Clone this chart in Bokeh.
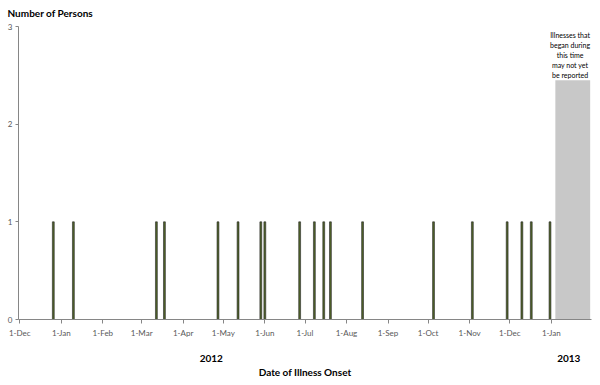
from datetime import datetime
from bokeh.plotting import figure
from bokeh.models import (ColumnDataSource, Range1d, FixedTicker, DatetimeTickFormatter, Label,
                          DatetimeAxis)
from bokeh.embed import file_html
from bokeh.resources import INLINE

# ---- data ----
onset_dates = ["2011-12-26", "2012-01-10", "2012-03-12", "2012-03-18", "2012-04-27",
               "2012-05-12", "2012-05-29", "2012-06-01", "2012-06-27", "2012-07-08",
               "2012-07-15", "2012-07-20", "2012-08-13", "2012-10-05", "2012-11-03",
               "2012-11-29", "2012-12-10", "2012-12-17", "2012-12-31"]
persons = [1, 1, 1, 1, 1, 1, 1, 1, 1, 1, 1, 1, 1, 1, 1, 1, 1, 1, 1]
month_ticks = ["2011-12-01", "2012-01-01", "2012-02-01", "2012-03-01", "2012-04-01",
               "2012-05-01", "2012-06-01", "2012-07-01", "2012-08-01", "2012-09-01",
               "2012-10-01", "2012-11-01", "2012-12-01", "2013-01-01"]
y_ticks = [0, 1, 2, 3]
year_positions = ["2012-04-22", "2013-01-14"]   # labelled "2012", "2013"
pending_start = "2013-01-04"
pending_end = "2013-01-30"
pending_height = 2.45
pending_note = "Illnesses that\nbegan during\nthis time\nmay not yet\nbe reported"

DAY = 86400000.0

def ms(s):
    return (datetime.strptime(s, "%Y-%m-%d") - datetime(1970, 1, 1)).total_seconds() * 1000.0

src = ColumnDataSource(dict(x=[ms(d) for d in onset_dates], top=persons))
pend = ColumnDataSource(dict(left=[ms(pending_start)], right=[ms(pending_end)],
                             top=[pending_height], bottom=[0]))

FONT = "Lato"

p = figure(width=600, height=385, x_axis_type="datetime", output_backend="svg",
           toolbar_location=None, min_border_left=18, min_border_right=9,
           min_border_top=26, min_border_bottom=66,
           x_range=Range1d(ms("2011-11-30"), ms("2013-01-31")), y_range=Range1d(0, 3))
p.outline_line_color = None
p.background_fill_color = "white"
p.border_fill_color = "white"
p.xgrid.visible = False
p.ygrid.visible = False

p.title.text = "Number of Persons"
p.title.align = "left"
p.title.offset = -11
p.title.vertical_align = "top"
p.title.text_font = FONT
p.title.text_font_style = "bold"
p.title.text_font_size = "10px"
p.title.text_color = "#000000"
p.title.standoff = 12

p.quad(left="left", right="right", top="top", bottom="bottom", source=pend,
       fill_color="#C8C8C8", line_color=None)
p.vbar(x="x", top="top", width=1.4 * DAY, source=src, fill_color="#4F6228",
       line_color="#262626", line_width=0.6)

# axes
p.xaxis.ticker = FixedTicker(ticks=[ms(t) for t in month_ticks])
fmt = "1-%b"
p.xaxis.formatter = DatetimeTickFormatter(milliseconds=fmt, seconds=fmt, minsec=fmt, minutes=fmt,
                                          hourmin=fmt, hours=fmt, days=fmt, months=fmt, years=fmt)
p.xaxis.minor_tick_line_color = None
p.xaxis.major_tick_in = 0
p.xaxis.major_tick_out = 4
p.xaxis.axis_line_color = "#868686"
p.xaxis.major_tick_line_color = "#868686"
p.xaxis.major_label_text_font = FONT
p.xaxis.major_label_text_font_size = "8px"
p.xaxis.major_label_text_color = "#595959"
p.xaxis.major_label_standoff = 4

yfmt = "%Y"
year_axis = DatetimeAxis(ticker=FixedTicker(ticks=[ms(t) for t in year_positions]),
                         formatter=DatetimeTickFormatter(milliseconds=yfmt, seconds=yfmt, minsec=yfmt,
                                                         minutes=yfmt, hourmin=yfmt, hours=yfmt,
                                                         days=yfmt, months=yfmt, years=yfmt),
                         axis_line_color=None, major_tick_line_color=None,
                         minor_tick_line_color=None, major_tick_out=0, major_tick_in=0,
                         major_label_standoff=14,
                         major_label_text_font=FONT, major_label_text_font_style="bold",
                         major_label_text_font_size="10px", major_label_text_color="#000000",
                         axis_label="Date of Illness Onset", axis_label_standoff=1,
                         axis_label_text_font=FONT, axis_label_text_font_style="bold",
                         axis_label_text_font_size="10px", axis_label_text_color="#000000")
p.add_layout(year_axis, "below")

p.yaxis.ticker = FixedTicker(ticks=y_ticks)
p.yaxis.minor_tick_line_color = None
p.yaxis.major_tick_in = 0
p.yaxis.major_tick_out = 3
p.yaxis.axis_line_color = "#868686"
p.yaxis.major_tick_line_color = "#868686"
p.yaxis.major_label_text_font = FONT
p.yaxis.major_label_text_font_size = "8px"
p.yaxis.major_label_text_color = "#595959"
p.yaxis.major_label_standoff = 3

p.add_layout(Label(x=ms("2013-01-15"), y=2.95, text=pending_note,
                   text_font=FONT, text_font_size="7px", text_line_height=1.25,
                   text_color="#000000", text_baseline="top", text_align="center"))

open("out.html", "w").write(file_html(p, INLINE))
